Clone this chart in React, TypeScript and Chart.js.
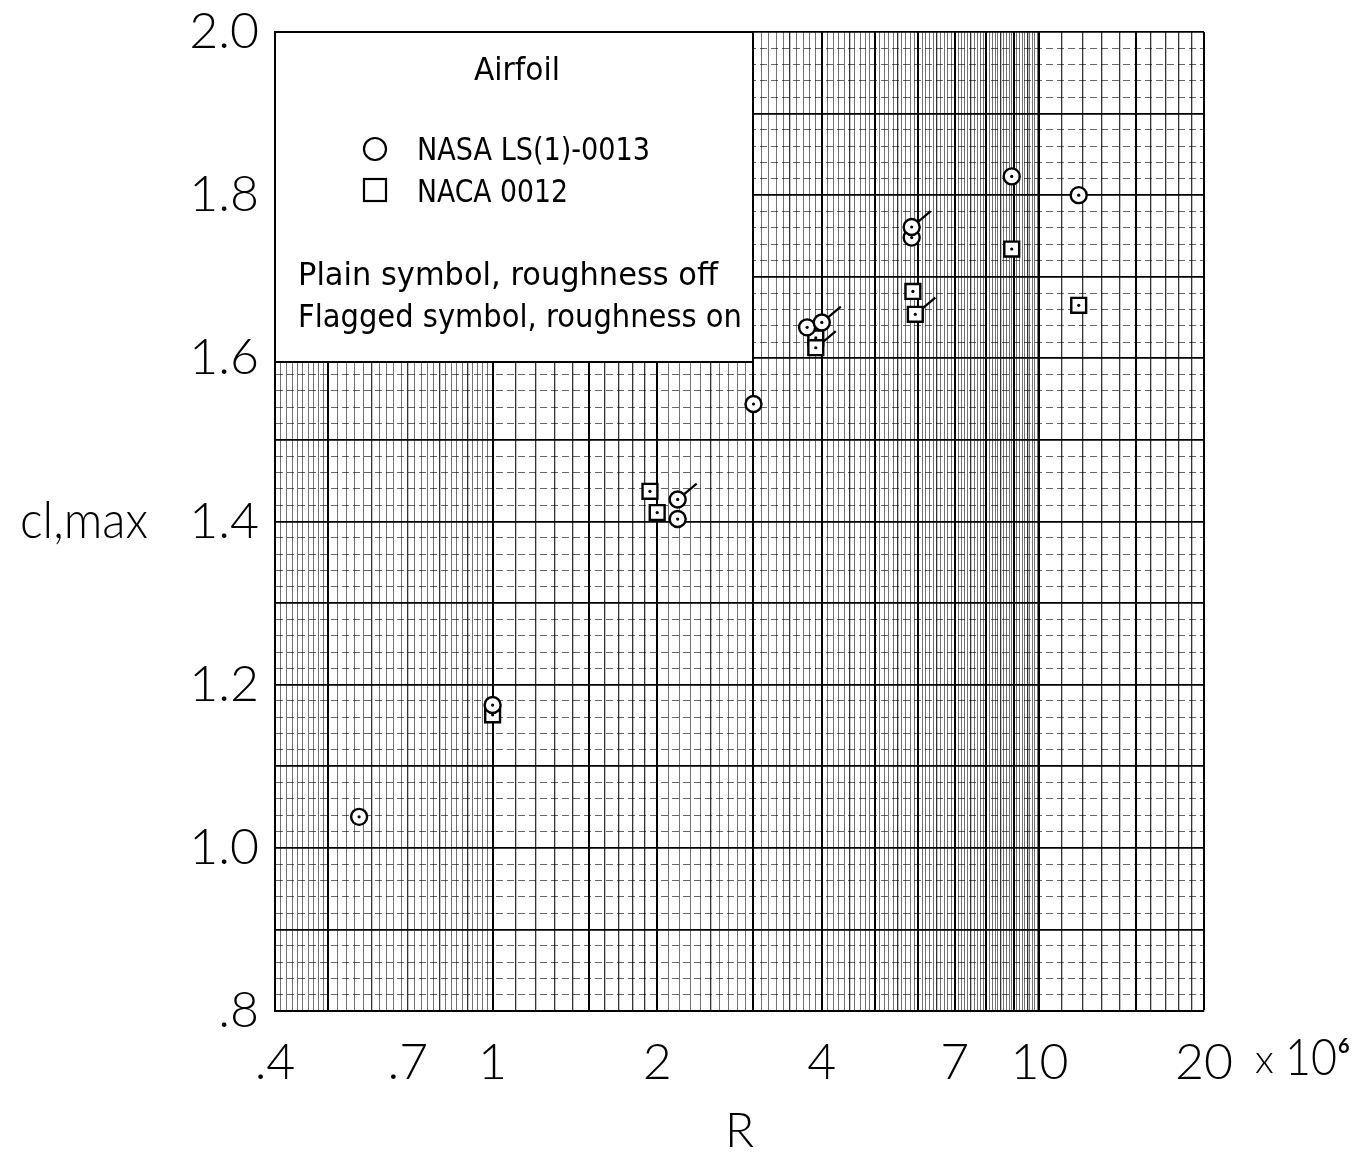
import React, { useEffect, useRef } from 'react';
import { Chart, registerables } from 'chart.js';

Chart.register(...registerables);

// ---- data (R in units of 10^6, section maximum lift coefficient) ----
const circleR = [0.57, 1.0, 2.18, 2.18, 3.0, 3.76, 4.0, 5.84, 5.84, 8.9, 11.8];
const circleCl = [1.038, 1.175, 1.403, 1.427, 1.544, 1.638, 1.644, 1.748, 1.761, 1.823, 1.8];
const circleFlagged = [false, false, false, true, false, false, true, false, true, false, false];

const squareR = [1.0, 1.94, 2.0, 3.9, 3.9, 5.87, 5.93, 8.9, 11.8];
const squareCl = [1.163, 1.437, 1.411, 1.625, 1.613, 1.682, 1.654, 1.734, 1.665];
const squareFlagged = [false, false, false, false, true, false, true, false, false];

// ---- tick labels ----
const xTickValues = [0.4, 0.7, 1, 2, 4, 7, 10, 20];
const xTickLabels = ['.4', '.7', '1', '2', '4', '7', '10', '20'];
const yTickValues = [0.8, 1.0, 1.2, 1.4, 1.6, 1.8, 2.0];
const yTickLabels = ['.8', '1.0', '1.2', '1.4', '1.6', '1.8', '2.0'];

// ---- log-paper rulings: [from, to, step] ----
const xGridSegments = [
  [0.4, 0.5, 0.01],
  [0.5, 1, 0.02],
  [1, 2, 0.1],
  [2, 10, 0.1],
  [10, 20, 1],
];
const xHeavyLines = [0.5, 1, 1.5, 2, 3, 4, 5, 6, 7, 8, 9, 10, 15, 20];
const yGridSegments = [[0.8, 2.0, 0.02]];

const legendTitle = 'Airfoil';
const seriesNames = ['NASA LS(1)-0013', 'NACA 0012'];
const noteLines = ['Plain symbol, roughness off', 'Flagged symbol, roughness on'];

function buildRulings(segs: number[][]): number[] {
  const out: number[] = [];
  segs.forEach(([a, b, s]) => {
    const n = Math.round((b - a) / s);
    for (let i = 0; i <= n; i++) {
      const v = Math.round((a + i * s) * 10000) / 10000;
      if (!out.some((o) => Math.abs(o - v) < 1e-9)) out.push(v);
    }
  });
  return out;
}

const near = (a: number, b: number) => Math.abs(a - b) < 1e-6;
const isMult = (v: number, m: number) => near(v / m, Math.round(v / m));

function xStyle(v: number): [string, number] {
  if (xHeavyLines.some((h) => near(h, v))) return ['#000', 2];
  if ((v < 1 && isMult(v, 0.1)) || (v > 1 && v < 2) || (v >= 2 && v < 10 && isMult(v, 0.5)) || v > 10)
    return ['rgba(0,0,0,0.8)', 1.3];
  return ['rgba(0,0,0,0.55)', 1];
}

function yStyle(v: number): [string, number] {
  if (isMult(v, 0.1)) return ['#000', 1.8];
  return ['rgba(0,0,0,0.6)', 1];
}

const NUM_FONT = 'Lato';

const legendPlugin = {
  id: 'paperLegend',
  afterDatasetsDraw(chart: any) {
    const { ctx, chartArea } = chart;
    const L = chartArea.left;
    const T = chartArea.top;
    ctx.save();
    ctx.fillStyle = '#fff';
    ctx.fillRect(L, T, 478, 330);
    ctx.strokeStyle = '#000';
    ctx.lineWidth = 2;
    ctx.strokeRect(L, T, 478, 330);
    ctx.fillStyle = '#000';
    ctx.textBaseline = 'alphabetic';
    ctx.textAlign = 'left';
    ctx.font = '32px "DejaVu Sans"';
    ctx.fillText(legendTitle, L + 199, T + 48, 86);
    ctx.fillText(seriesNames[0], L + 142, T + 128, 233);
    ctx.fillText(seriesNames[1], L + 142, T + 170, 151);
    ctx.fillText(noteLines[0], L + 23, T + 253, 420);
    ctx.fillText(noteLines[1], L + 23, T + 295, 444);
    // symbols
    ctx.lineWidth = 2.2;
    ctx.beginPath();
    ctx.arc(L + 100, T + 117, 11, 0, Math.PI * 2);
    ctx.stroke();
    ctx.strokeRect(L + 89, T + 147, 22, 22);
    ctx.restore();
  },
};

const flagPlugin = {
  id: 'flags',
  afterDatasetsDraw(chart: any) {
    const ctx = chart.ctx;
    const sets: [number, boolean[], number][] = [
      [2, circleFlagged, 6],
      [3, squareFlagged, 7],
    ];
    ctx.save();
    ctx.strokeStyle = '#000';
    ctx.lineWidth = 2.2;
    sets.forEach(([di, flags, off]) => {
      const meta = chart.getDatasetMeta(di);
      meta.data.forEach((pt: any, i: number) => {
        if (!flags[i]) return;
        ctx.beginPath();
        ctx.moveTo(pt.x + off, pt.y - off * 0.8);
        ctx.lineTo(pt.x + off + 13, pt.y - off * 0.8 - 11);
        ctx.stroke();
      });
    });
    ctx.restore();
  },
};

const extraTextPlugin = {
  id: 'extraText',
  afterDraw(chart: any) {
    const { ctx } = chart;
    const xs = chart.scales.x;
    const x20 = xs.getPixelForValue(20);
    ctx.save();
    ctx.fillStyle = '#000';
    ctx.textBaseline = 'alphabetic';
    ctx.textAlign = 'left';
    ctx.font = `300 40px ${NUM_FONT}`;
    ctx.fillText('x', x20 + 51, 1073, 22);
    ctx.font = `300 52px ${NUM_FONT}`;
    ctx.fillText('10', x20 + 81, 1075, 52);
    ctx.font = `bold 20px ${NUM_FONT}`;
    ctx.fillText('6', x20 + 134, 1053);
    // y-axis title
    ctx.font = `300 52px ${NUM_FONT}`;
    ctx.fillText('cl,max', 20, 538, 128);
    ctx.restore();
  },
};

export default function App() {
  const ref = useRef<HTMLCanvasElement | null>(null);

  useEffect(() => {
    if (!ref.current) return;
    const xGrid = buildRulings(xGridSegments);
    const yGrid = buildRulings(yGridSegments);
    const xLabel = (v: number) => {
      const i = xTickValues.findIndex((t) => near(t, v));
      return i >= 0 ? xTickLabels[i] : '';
    };
    const yLabel = (v: number) => {
      const i = yTickValues.findIndex((t) => near(t, v));
      return i >= 0 ? yTickLabels[i] : '';
    };
    const circles = circleR.map((r, i) => ({ x: r, y: circleCl[i] }));
    const squares = squareR.map((r, i) => ({ x: r, y: squareCl[i] }));

    const chart = new Chart(ref.current, {
      type: 'scatter',
      data: {
        datasets: [
          {
            label: 'dots circle',
            data: circles,
            pointStyle: 'circle',
            pointRadius: 1.6,
            backgroundColor: '#000',
            borderColor: '#000',
            borderWidth: 0,
            order: 0,
          },
          {
            label: 'dots square',
            data: squares,
            pointStyle: 'circle',
            pointRadius: 1.6,
            backgroundColor: '#000',
            borderColor: '#000',
            borderWidth: 0,
            order: 0,
          },
          {
            label: seriesNames[0],
            data: circles,
            pointStyle: 'circle',
            pointRadius: 8,
            borderWidth: 2.4,
            borderColor: '#000',
            backgroundColor: '#fff',
            order: 1,
          },
          {
            label: seriesNames[1],
            data: squares,
            pointStyle: 'rect',
            pointRadius: 10.5,
            borderWidth: 2.4,
            borderColor: '#000',
            backgroundColor: '#fff',
            order: 1,
          },
        ],
      },
      options: {
        animation: false,
        responsive: false,
        devicePixelRatio: 1,
        layout: { padding: { left: 0, right: 158, top: 32, bottom: 0 } },
        plugins: { legend: { display: false }, tooltip: { enabled: false } },
        scales: {
          x: {
            type: 'logarithmic',
            min: 0.4,
            max: 20,
            afterBuildTicks: (s: any) => {
              s.ticks = xGrid.map((v) => ({ value: v }));
            },
            afterFit: (s: any) => {
              s.height = 145;
              s.paddingLeft = 0;
              s.paddingRight = 0;
            },
            grid: {
              drawTicks: false,
              color: (c: any) => (c.tick ? xStyle(c.tick.value)[0] : '#000'),
              lineWidth: (c: any) => (c.tick ? xStyle(c.tick.value)[1] : 2),
            },
            border: { display: true, color: '#000', width: 2 },
            ticks: {
              autoSkip: false,
              maxRotation: 0,
              minRotation: 0,
              padding: 22,
              color: '#000',
              font: { family: NUM_FONT, size: 50, weight: '300' },
              callback: (v: any) => xLabel(Number(v)),
            },
            title: {
              display: true,
              text: 'R',
              color: '#000',
              font: { family: NUM_FONT, size: 48, weight: '300', lineHeight: 1 },
              padding: { top: 0, bottom: 0 },
            },
          },
          y: {
            type: 'linear',
            min: 0.8,
            max: 2.0,
            afterBuildTicks: (s: any) => {
              s.ticks = yGrid.map((v) => ({ value: v }));
            },
            afterFit: (s: any) => {
              s.width = 275;
              s.paddingTop = 0;
              s.paddingBottom = 0;
            },
            grid: {
              drawTicks: false,
              color: (c: any) => (c.tick ? yStyle(c.tick.value)[0] : '#000'),
              lineWidth: (c: any) => (c.tick ? yStyle(c.tick.value)[1] : 2),
            },
            border: {
              display: true,
              color: '#000',
              width: 2,
              dash: (c: any) => (c.tick && !isMult(c.tick.value, 0.1) ? [7, 4] : []),
            },
            ticks: {
              autoSkip: false,
              padding: 16,
              color: '#000',
              font: { family: NUM_FONT, size: 50, weight: '300' },
              callback: (v: any) => yLabel(Number(v)),
            },
          },
        },
      },
      plugins: [flagPlugin, legendPlugin, extraTextPlugin],
    } as any);
    return () => chart.destroy();
  }, []);

  return (
    <div style={{ position: 'absolute', left: 0, top: 0, width: 1362, height: 1156, background: '#fff' }}>
      <canvas ref={ref} width={1362} height={1156} style={{ display: 'block' }} />
    </div>
  );
}
